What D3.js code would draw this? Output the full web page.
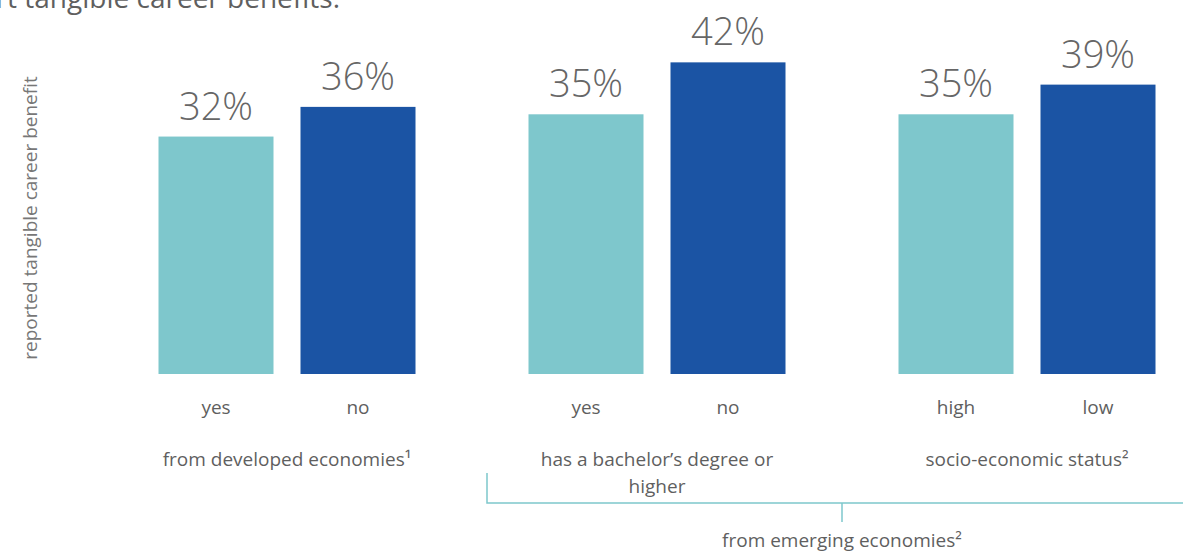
<!DOCTYPE html>
<html>
<head>
<meta charset="utf-8">
<script src="https://cdn.jsdelivr.net/npm/d3@7/dist/d3.min.js"></script>
<style>
  html, body { margin: 0; padding: 0; background: #fff; }
  svg { display: block; font-family: "Open Sans", "Noto Sans", sans-serif; }
</style>
</head>
<body>
<svg id="chart" width="1183" height="553"></svg>
<script>
// Share of respondents reporting a tangible career benefit, by group
const groups = ["developed", "bachelor", "ses"];
const groupLabels = [
  ["from developed economies\u00b9"],
  ["has a bachelor\u2019s degree or", "higher"],
  ["socio-economic status\u00b2"]
];
const subCategories = [["yes", "no"], ["yes", "no"], ["high", "low"]];
const values = [[32, 36], [35, 42], [35, 39]];
const yTitle = "reported tangible career benefit";
const bracketLabel = "from emerging economies\u00b2";
const heading = "report tangible career benefits.";

const colors = ["#7ec7cc", "#1b54a4"];
const textGray = "#5f5f5f";

const svg = d3.select("#chart");
const baseY = 374;

const x0 = d3.scaleBand().domain(groups).range([102, 1212]).paddingInner(0).paddingOuter(0);
const x1 = d3.scaleBand().domain([0, 1]).range([56.5, 313.5]).paddingInner(27 / 142).paddingOuter(0);
const y = d3.scaleLinear().domain([0, 50]).range([baseY, baseY - 371]);

// Heading line, running off the top edge
svg.append("text")
  .attr("x", 340).attr("y", 8)
  .attr("text-anchor", "end")
  .attr("font-size", 28)
  .attr("fill", textGray)
  .text(heading);

// Y axis title
svg.append("text")
  .attr("transform", `translate(37,${218}) rotate(-90)`)
  .attr("text-anchor", "middle")
  .attr("font-size", 19)
  .attr("fill", "#777")
  .text(yTitle);

const g = svg.selectAll("g.group")
  .data(groups.map((k, i) => ({ key: k, i })))
  .join("g")
  .attr("class", "group")
  .attr("transform", d => `translate(${x0(d.key)},0)`);

const bars = g.selectAll("g.bar")
  .data(d => values[d.i].map((v, j) => ({ v, j, cat: subCategories[d.i][j] })))
  .join("g").attr("class", "bar");

bars.append("rect")
  .attr("x", d => x1(d.j))
  .attr("width", x1.bandwidth())
  .attr("y", d => y(d.v))
  .attr("height", d => baseY - y(d.v))
  .attr("fill", d => colors[d.j]);

bars.append("text")
  .attr("x", d => x1(d.j) + x1.bandwidth() / 2)
  .attr("y", d => y(d.v) - 17)
  .attr("text-anchor", "middle")
  .attr("font-size", 38)
  .attr("font-weight", 300)
  .attr("fill", "#666")
  .text(d => d.v + "%");

bars.append("text")
  .attr("x", d => x1(d.j) + x1.bandwidth() / 2)
  .attr("y", 414)
  .attr("text-anchor", "middle")
  .attr("font-size", 19)
  .attr("fill", textGray)
  .text(d => d.cat);

g.each(function(d) {
  const t = d3.select(this).append("text")
    .attr("x", x0.bandwidth() / 2)
    .attr("y", 466)
    .attr("text-anchor", "middle")
    .attr("font-size", 19)
    .attr("fill", textGray);
  groupLabels[d.i].forEach((line, k) => {
    t.append("tspan")
      .attr("x", x0.bandwidth() / 2)
      .attr("dy", k === 0 ? 0 : 27)
      .text(line);
  });
});

// Bracket spanning the two emerging-economy groups
const bx0 = 487, bx1 = 1183, by = 503;
const bmid = (x0("bachelor") + x0("ses") + x0.bandwidth()) / 2;
const bracket = svg.append("g")
  .attr("stroke", "#7ec7cc").attr("stroke-width", 1.5).attr("fill", "none");
bracket.append("path").attr("d", `M${bx0},${by - 30}V${by}H${bx1}`);
bracket.append("path").attr("d", `M${bmid},${by}V${by + 19}`);

svg.append("text")
  .attr("x", bmid).attr("y", 547)
  .attr("text-anchor", "middle")
  .attr("font-size", 19)
  .attr("fill", textGray)
  .text(bracketLabel);
</script>
</body>
</html>
